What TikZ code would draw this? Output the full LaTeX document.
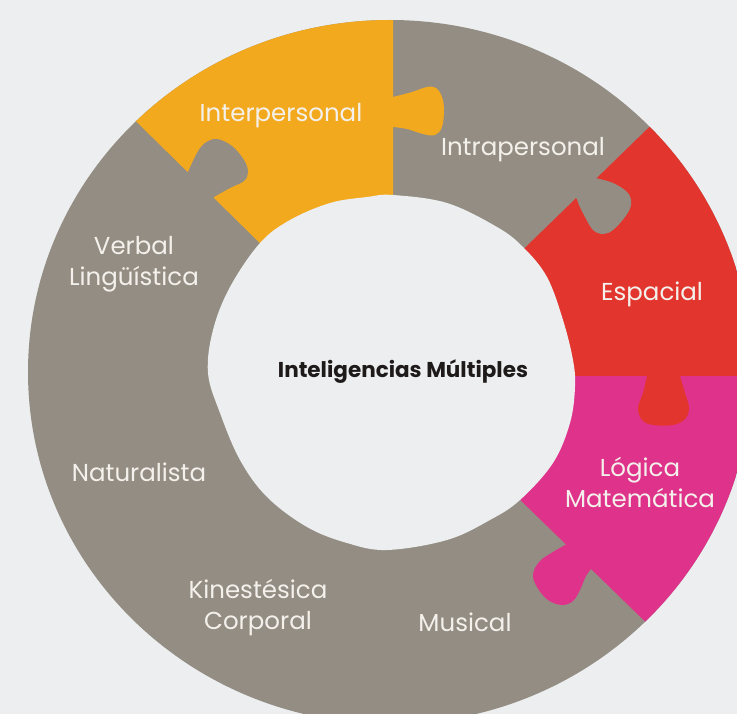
\documentclass[tikz,border=0pt]{standalone}
\usepackage{fontspec}
\setmainfont{Poppins}
\definecolor{bgc}{HTML}{ECEEF0}
\definecolor{ringgray}{HTML}{938D83}
\definecolor{piorange}{HTML}{F3A91E}
\definecolor{pired}{HTML}{E2352D}
\definecolor{pipink}{HTML}{DF328B}
\definecolor{labelc}{HTML}{F4F1EC}
\definecolor{titlec}{HTML}{1E1A1A}
\tikzset{
  lbl/.style={text=labelc, font=\fontsize{24.5}{31}\selectfont, align=center, inner sep=0pt},
  ttl/.style={text=titlec, font=\bfseries\fontsize{21.5}{24}\selectfont, inner sep=0pt}
}
\begin{document}
\begin{tikzpicture}[x=1pt,y=-1pt]
\clip (0,0) rectangle (737,714);
\fill[bgc] (0,0) rectangle (737,714);
% ring base
\fill[ringgray] (390,372) ellipse [x radius=362pt, y radius=352pt];
\begin{scope}
  \clip (390,372) ellipse [x radius=362pt, y radius=352pt];
  % Interpersonal sector
  \fill[piorange] (393,374) -- (393,-100) -- (-89,-100) -- cycle;
  % Espacial sector
  \fill[pired] (393,376) -- (1164,-373) -- (1164,376) -- cycle;
  % Logica sector
  \fill[pipink] (393,376) -- (1164,376) -- (1164,1127) -- cycle;
\end{scope}
% tabs
\fill[piorange] plot[smooth, tension=0.6] coordinates {(393,97) (412,92) (427,87) (436,88) (442,97) (444,110) (442,127) (435,135) (423,134) (407,129) (393,127)} -- (380,127) -- (380,97) -- cycle;
\fill[ringgray] plot[smooth, tension=0.6] coordinates {(188,172) (197,153) (205,143) (217,139) (232,146) (244,160) (248,172) (244,181) (230,188) (214,197)} -- (200,210) -- (170,180) -- cycle;
\fill[ringgray] plot[smooth, tension=0.6] coordinates {(595,178) (613,183) (628,193) (631,205) (625,217) (613,230) (603,234) (593,230) (585,217) (579,205) (577,199)} -- (565,190) -- (585,165) -- cycle;
\fill[pired] plot[smooth, tension=0.6] coordinates {(647,376) (643,393) (638,408) (642,420) (653,425) (673,425) (685,419) (689,408) (685,393) (680,376)} -- (680,360) -- (647,360) -- cycle;
\fill[pipink] plot[smooth, tension=0.6] coordinates {(567,544) (553,552) (540,561) (533,574) (537,587) (548,600) (562,605) (573,601) (580,590) (586,576) (592,568)} -- (600,555) -- (575,535) -- cycle;
% hole
\fill[bgc] plot[smooth cycle, tension=0.6] coordinates {(393,195) (447,203) (497,227) (523,247) (547,277) (563,320) (573,360) (575,387) (570,423) (553,463) (520,500) (490,520) (447,540) (387,550) (347,543) (307,527) (267,497) (240,460) (220,413) (208,373) (213,330) (230,287) (260,243) (290,220) (330,203) (367,197)};
% labels
\node[lbl] (inter) at (281,116) {Interpersonal};
\node[lbl] (intra) at (523,150) {Intrapersonal};
\node[lbl] (espa) at (652,294) {Espacial};
\node[lbl] (logi) at (640,482) {Lógica\\Matemática};
\node[lbl] (verb) at (134,264) {Verbal\\Lingüística};
\node[lbl] (natu) at (139,472) {Naturalista};
\node[lbl] (kine) at (258,608) {Kinestésica\\Corporal};
\node[lbl] (musi) at (465,622) {Musical};
\node[ttl] (title) at (403,372) {Inteligencias Múltiples};
\end{tikzpicture}
\end{document}
